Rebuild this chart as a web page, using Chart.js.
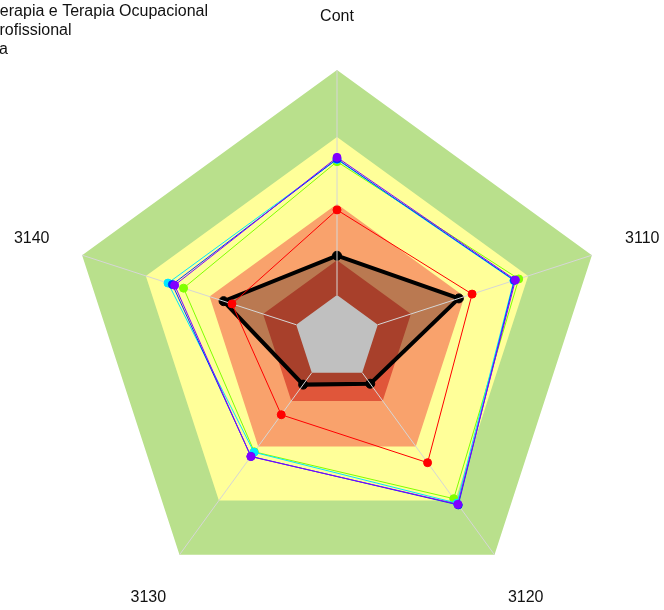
<!DOCTYPE html>
<html><head><meta charset="utf-8">
<script src="https://cdn.jsdelivr.net/npm/chart.js@4/dist/chart.umd.min.js"></script>
<style>html,body{margin:0;padding:0;background:#fff}#wrap{width:664px;height:610px}</style>
</head><body><div id="wrap"><canvas id="c" width="664" height="610"></canvas></div>
<script>
const categories = ['Cont', '3110', '3120', '3130', '3140'];
const bandLimits = [16, 29, 50, 75, 100];
const bandColors = ['#c0c0c0', '#e0563a', '#f9a26c', '#ffff99', '#b9e08c'];
const seriesBlack = [30.7, 47.8, 21.1, 21.5, 44.5];
const seriesRed = [47.8, 53, 57.5, 35.4, 41.2];
const seriesGreen = [65.8, 71.3, 74.1, 52.5, 60.2];
const seriesCyan = [66.6, 69.4, 76.2, 52.7, 66.3];
const seriesBlue = [66.8, 69.6, 77.0, 54.6, 64.6];
const seriesPurple = [67.4, 70.0, 76.7, 54.7, 63.7];
const legendLabels = ['Fisioterapia e Terapia Ocupacional', 'Educação Profissional', 'Média'];

function band(i, order) {
  return {
    label: 'band' + i,
    data: categories.map(() => bandLimits[i]),
    fill: 'origin',
    backgroundColor: bandColors[i],
    borderWidth: 0,
    borderColor: 'rgba(0,0,0,0)',
    pointRadius: 0,
    order: order
  };
}
function series(label, data, color, width, r, order, fillColor) {
  return {
    label: label,
    data: data,
    fill: fillColor ? 'origin' : false,
    backgroundColor: fillColor || color,
    borderColor: color,
    borderWidth: width,
    pointRadius: r,
    pointBorderWidth: 1,
    pointBackgroundColor: color,
    pointBorderColor: color,
    order: order
  };
}
const GRAY_INDEX = 5;
const datasets = [
  band(4, 100), band(3, 90), band(2, 80), band(1, 70),
  series(legendLabels[0], seriesBlack, '#000000', 4, 4.5, 60, 'rgba(0,0,0,0.25)'),
  band(0, 50),
  series(legendLabels[1], seriesRed, '#ff0000', 1, 4, 40),
  series(legendLabels[2], seriesGreen, '#80ff00', 1, 4, 30),
  series('cyan', seriesCyan, '#00e8ff', 1, 4, 20),
  series('blue', seriesBlue, '#0030ff', 1, 4, 10),
  series('purple', seriesPurple, '#8000ff', 1, 4, 0)
];

const decor = {
  id: 'decor',
  afterDatasetDraw(chart, args) {
    if (args.index !== GRAY_INDEX) return;
    const s = chart.scales.r, ctx = chart.ctx;
    ctx.save();
    ctx.strokeStyle = '#d6d6d6';
    ctx.lineWidth = 1;
    for (let i = 0; i < categories.length; i++) {
      const a = s.getPointPositionForValue(i, bandLimits[0]);
      const p = s.getPointPositionForValue(i, s.max);
      ctx.beginPath();
      ctx.moveTo(a.x, a.y);
      ctx.lineTo(p.x, p.y);
      ctx.stroke();
    }
    ctx.restore();
  },
  afterDraw(chart) {
    const s = chart.scales.r, ctx = chart.ctx;
    ctx.save();
    ctx.fillStyle = '#111111';
    ctx.font = '16px "Liberation Sans", Arial, sans-serif';
    ctx.textAlign = 'center';
    ctx.textBaseline = 'middle';
    for (let i = 0; i < categories.length; i++) {
      const p = s.getPointPosition(i, 321);
      ctx.fillText(categories[i], p.x, p.y);
    }
    ctx.textAlign = 'right';
    const ends = [208, 71.5, 8];
    for (let i = 0; i < legendLabels.length; i++) {
      ctx.fillText(legendLabels[i], ends[i], 12 + i * 19);
    }
    ctx.restore();
  }
};

new Chart(document.getElementById('c'), {
  type: 'radar',
  data: { labels: categories, datasets: datasets },
  options: {
    responsive: false,
    animation: false,
    devicePixelRatio: 1,
    layout: { padding: { top: 70, bottom: 4, left: 69, right: 59 } },
    elements: { line: { tension: 0 } },
    plugins: { legend: { display: false }, tooltip: { enabled: false } },
    scales: {
      r: {
        min: 0, max: 100,
        ticks: { display: false },
        grid: { display: false },
        angleLines: { display: false },
        pointLabels: { display: false }
      }
    }
  },
  plugins: [decor]
});
</script>
</body></html>
